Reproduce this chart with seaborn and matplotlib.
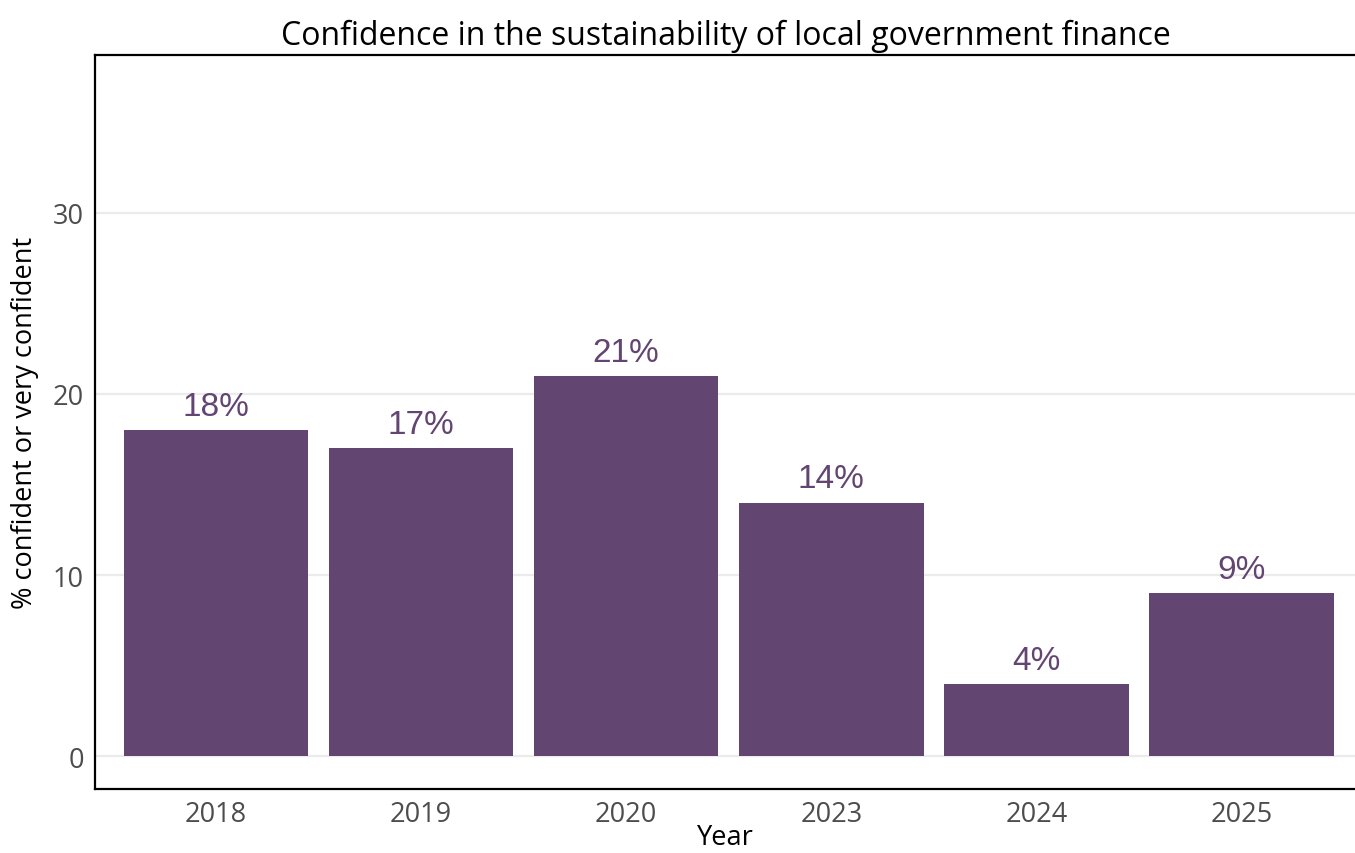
import matplotlib
matplotlib.use("Agg")
import matplotlib.pyplot as plt
import seaborn as sns
import pandas as pd

years = ["2018", "2019", "2020", "2023", "2024", "2025"]
confident_pct = [18, 17, 21, 14, 4, 9]
y_ticks = [0, 10, 20, 30]

bar_color = "#634572"

sns.set_theme(style="white")
plt.rcParams["font.family"] = ["Open Sans", "DejaVu Sans"]

df = pd.DataFrame({"Year": years, "pct": confident_pct})

fig = plt.figure(figsize=(13.55, 8.54), dpi=100)
ax = fig.add_axes([95 / 1355, 1 - 790 / 854, 1 - 95 / 1355 + 0.001, (790 - 56) / 854])

sns.barplot(data=df, x="Year", y="pct", color=bar_color, width=0.9,
            saturation=1, ax=ax, zorder=3, linewidth=0, edgecolor=bar_color)

for i, v in enumerate(confident_pct):
    ax.text(i, v + 0.45, f"{v}%", ha="center", va="bottom", fontsize=24,
            color=bar_color, family=["Liberation Sans", "DejaVu Sans"], zorder=4)

ax.set_xlim(-0.59, 5.56)
ax.set_ylim(-1.8, 38.7)
ax.set_yticks(y_ticks)
ax.set_yticklabels([str(t) for t in y_ticks])
ax.yaxis.grid(True, color="#ebebeb", linewidth=1.6, zorder=0)
ax.xaxis.grid(False)
ax.tick_params(axis="both", length=0, labelsize=19.5, labelcolor="#4d4d4d", pad=8)

for side in ["left", "bottom", "top"]:
    ax.spines[side].set_visible(True)
    ax.spines[side].set_color("black")
    ax.spines[side].set_linewidth(1.6)
ax.spines["right"].set_visible(False)

ax.set_xlabel("Year", fontsize=19.5, color="black", labelpad=-4)
ax.set_ylabel("% confident or very confident", fontsize=19.5, color="black", labelpad=10)
ax.set_title("Confidence in the sustainability of local government finance",
             fontsize=23, color="black", pad=8)

fig.savefig("out.png", dpi=100)
